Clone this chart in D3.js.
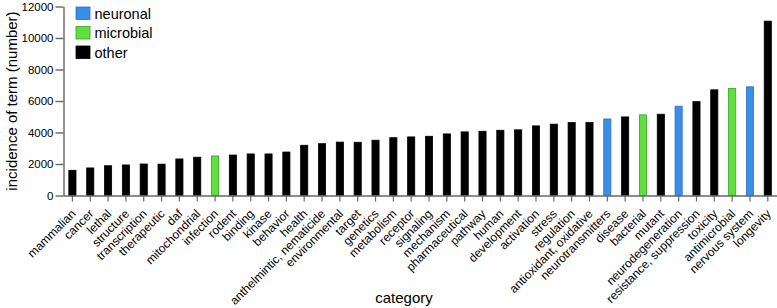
<!DOCTYPE html>
<html>
<head>
<meta charset="utf-8">
<script src="https://cdn.jsdelivr.net/npm/d3@7"></script>
<style>
  html, body { margin: 0; padding: 0; background: #fff; }
  svg { display: block; font-family: "Liberation Sans", Arial, Helvetica, sans-serif; }
</style>
</head>
<body>
<svg id="chart" width="777" height="308"></svg>
<script>
const categories = ["mammalian","cancer","lethal","structure","transcription","therapeutic","daf","mitochondrial","infection","rodent","binding","kinase","behavior","health","anthelmintic, nematicide","environmental","target","genetics","metabolism","receptor","signaling","mechanism","pharmaceutical","pathway","human","development","activation","stress","regulation","antioxidant, oxidative","neurotransmitters","disease","bacterial","mutant","neurodegeneration","resistance, suppression","toxicity","antimicrobial","nervous system","longevity"];
const values = [1600,1750,1890,1940,2000,1990,2320,2430,2510,2570,2640,2640,2760,3190,3290,3390,3380,3510,3670,3720,3760,3910,4040,4080,4140,4170,4420,4530,4630,4630,4860,4990,5120,5160,5670,5960,6710,6790,6900,11070];
const groups = ["other","other","other","other","other","other","other","other","microbial","other","other","other","other","other","other","other","other","other","other","other","other","other","other","other","other","other","other","other","other","other","neuronal","other","microbial","other","neuronal","other","other","microbial","neuronal","other"];
const legendLabels = ["neuronal","microbial","other"];
const yTicks = [0,2000,4000,6000,8000,10000,12000];

const fill = {neuronal: "#3a8de9", microbial: "#5fe03c", other: "#000000"};
const stroke = {neuronal: "#2f6fb8", microbial: "#3f9e2a", other: "#000000"};

const svg = d3.select("#chart");
const x0 = 63.5, step = 17.83;
const x = d3.scaleBand().domain(categories).range([x0, x0 + step * categories.length]).paddingInner(0.6).paddingOuter(0.3);
const y = d3.scaleLinear().domain([0, 12000]).range([195.5, 6.5]);

const data = categories.map((c, i) => ({c, v: values[i], g: groups[i]}));

svg.append("g").selectAll("rect").data(data).join("rect")
  .attr("x", d => x(d.c))
  .attr("width", x.bandwidth())
  .attr("y", d => y(d.v))
  .attr("height", d => y(0) - y(d.v))
  .attr("fill", d => fill[d.g])
  .attr("stroke", d => stroke[d.g])
  .attr("stroke-width", 0.8);

// y axis
const yAxis = svg.append("g").attr("transform", `translate(${x0},0)`)
  .call(d3.axisLeft(y).tickValues(yTicks).tickFormat(d3.format("d")).tickSize(8).tickSizeOuter(0));
yAxis.select(".domain").attr("stroke", "#666").attr("stroke-width", 1.4);
yAxis.selectAll(".tick line").attr("stroke", "#666").attr("stroke-width", 1.4);
yAxis.selectAll(".tick text").attr("font-size", 11.5).attr("fill", "#000").attr("x", -10)
  .attr("font-family", "Liberation Sans, Arial, sans-serif");

// x axis
const xAxis = svg.append("g").attr("transform", `translate(0,${y(0)})`)
  .call(d3.axisBottom(x).tickSize(6).tickSizeOuter(0));
xAxis.select(".domain").attr("stroke", "#666").attr("stroke-width", 1.4)
  .attr("d", `M${x0},0.5H777`);
xAxis.selectAll(".tick line").attr("stroke", "#666").attr("stroke-width", 1.2);
xAxis.selectAll(".tick text")
  .attr("font-size", 12).attr("fill", "#000")
  .attr("font-family", "Liberation Sans, Arial, sans-serif")
  .attr("text-anchor", "end")
  .attr("y", 0).attr("dy", "0")
  .attr("transform", "translate(4,19) rotate(-45)");

// axis titles
svg.append("text")
  .attr("transform", "translate(17,101) rotate(-90)")
  .attr("text-anchor", "middle")
  .attr("font-size", 15)
  .text("incidence of term (number)");
svg.append("text")
  .attr("x", 404).attr("y", 303)
  .attr("text-anchor", "middle")
  .attr("font-size", 15)
  .text("category");

// legend
const lg = svg.append("g");
legendLabels.forEach((l, i) => {
  const yy = 7 + i * 19.5;
  lg.append("rect").attr("x", 76).attr("y", yy).attr("width", 14).attr("height", 12.5)
    .attr("fill", fill[l]).attr("stroke", stroke[l]).attr("stroke-width", 0.8);
  lg.append("text").attr("x", 94.5).attr("y", yy + 11.5).attr("font-size", 14.5).text(l);
});
</script>
</body>
</html>
